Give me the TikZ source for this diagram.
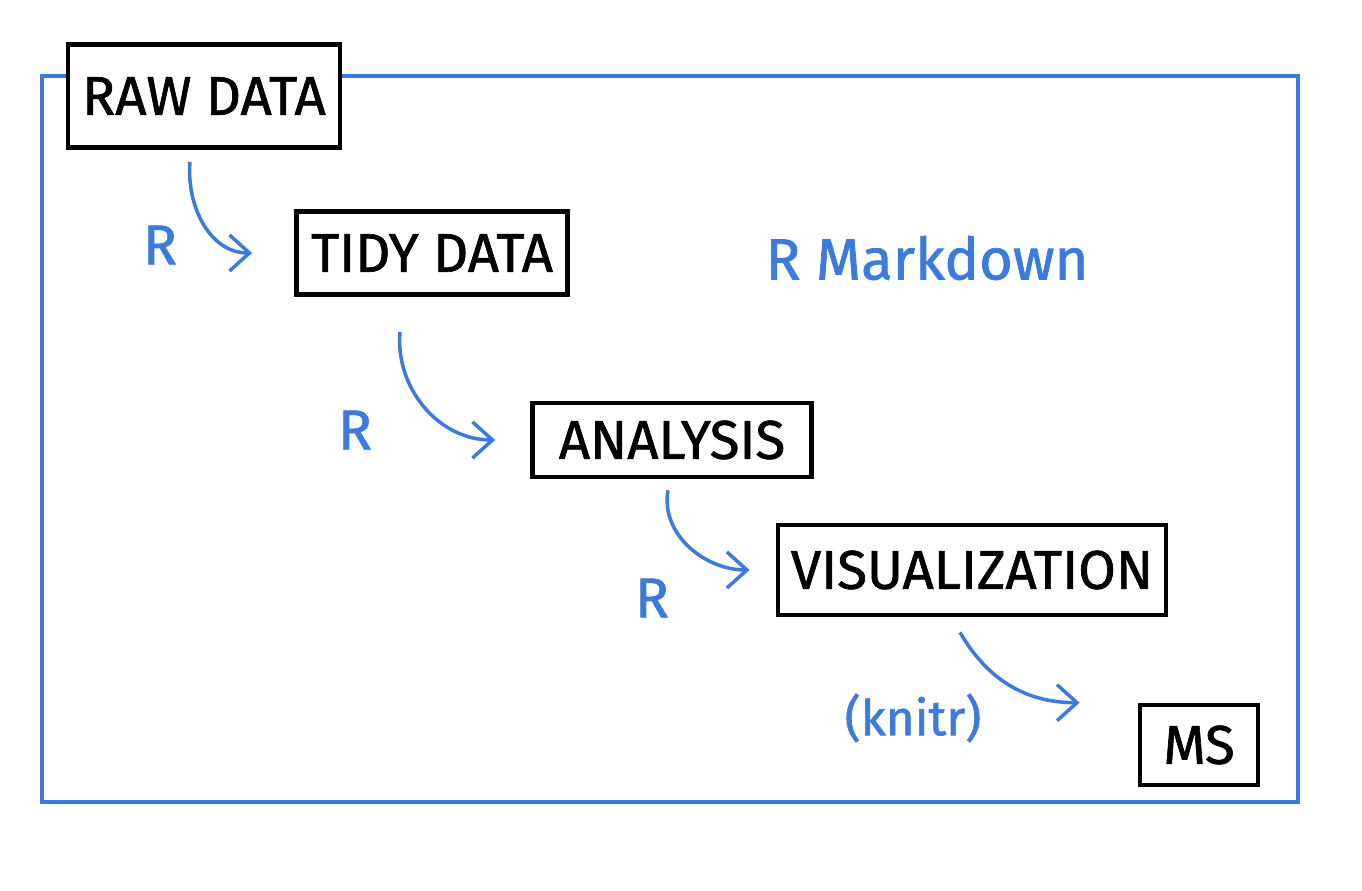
\documentclass[tikz,border=0pt]{standalone}
\usepackage{fontspec}
\setmainfont{Fira Sans}[FakeBold=1.2]
\usepackage{tikz}
\usetikzlibrary{arrows.meta}

\definecolor{penblue}{HTML}{3A7BDB}

\begin{document}
\begin{tikzpicture}[x=0.01cm,y=-0.01cm,
	stage/.style={draw,fill=white,line width=1.3pt,font=\fontsize{15.5}{18}\selectfont,inner sep=0pt},
	flow/.style={penblue,line width=1pt,-{Straight Barb[length=2mm,width=3.6mm]}},
	tag/.style={penblue,font=\fontsize{16}{19}\selectfont}]
\useasboundingbox (0,0) rectangle (1362,891);

% the R Markdown frame
\draw[penblue,line width=1.1pt] (42,76) rectangle (1298,802);
\node[tag,font=\fontsize{16.5}{20}\selectfont] (rmd) at (927,258) {R Markdown};

% stages
\node[stage,minimum width=2.72cm,minimum height=1.03cm] (raw) at (204,96) {RAW DATA};
\node[stage,minimum width=2.71cm,minimum height=0.83cm] (tidy) at (432,253) {TIDY DATA};
\node[stage,minimum width=2.79cm,minimum height=0.74cm] (analysis) at (672,440) {ANALYSIS};
\node[stage,minimum width=3.88cm,minimum height=0.90cm] (visual) at (972,570) {VISUALIZATION};
\node[stage,minimum width=1.18cm,minimum height=0.80cm] (ms) at (1199,745) {MS};

% steps between them
\draw[flow] ([xshift=-0.14cm,yshift=-0.12cm]raw.south) to[out=-95,in=180] ([xshift=-0.42cm]tidy.west);
\draw[flow] ([xshift=-0.32cm,yshift=-0.35cm]tidy.south) to[out=-95,in=180] ([xshift=-0.35cm]analysis.west);
\draw[flow] ([xshift=-0.04cm,yshift=-0.11cm]analysis.south) to[out=-100,in=180] ([xshift=-0.26cm]visual.west);
\draw[flow] ([xshift=-0.12cm,yshift=-0.15cm]visual.south) to[out=-60,in=180] ([xshift=-0.58cm]ms.north west);

\node[tag] (r1) at (160,245) {R};
\node[tag] (r2) at (355,430) {R};
\node[tag] (r3) at (652,598) {R};
\node[tag,font=\fontsize{14}{17}\selectfont] (knitr) at (913,718) {(knitr)};
\end{tikzpicture}
\end{document}
